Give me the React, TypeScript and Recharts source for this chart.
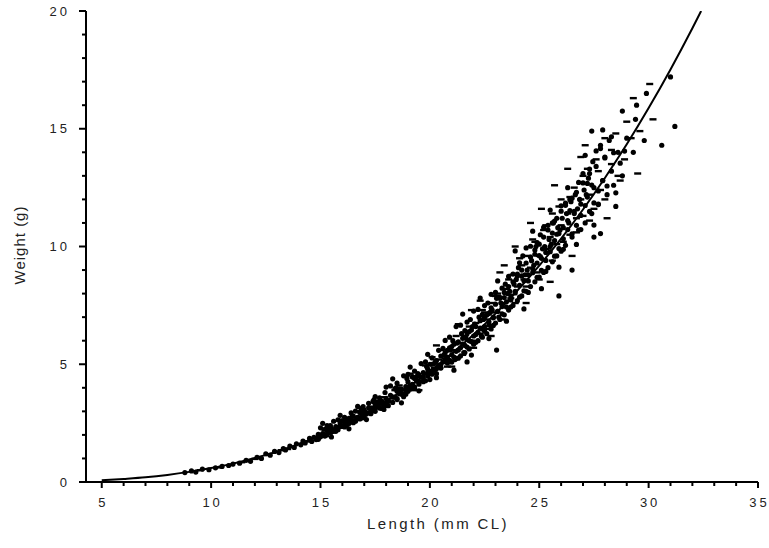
import { ScatterChart, Scatter, XAxis, YAxis } from 'recharts';

// length (mm CL) / weight (g) pairs
const dotPoints: [number, number][] = [
  [8.8, 0.4], [9.1, 0.47], [9.3, 0.42], [9.6, 0.55], [9.9, 0.52], [10.2, 0.6], [10.5, 0.66], [10.8, 0.7],
  [11.0, 0.76], [11.3, 0.8], [11.6, 0.92], [11.8, 0.88], [12.1, 1.05], [12.3, 1.0],
  [12.5, 1.2], [12.7, 1.14], [12.9, 1.3], [13.1, 1.25], [13.3, 1.42], [13.4, 1.36], [13.6, 1.52], [13.8, 1.47],
  [13.9, 1.62], [14.1, 1.58], [14.2, 1.74], [14.3, 1.66], [14.5, 1.85], [14.6, 1.72], [14.7, 1.9], [14.8, 1.8],
  [14.9, 2.02], [15.0, 1.92],
  [15.1, 2.05], [15.2, 1.95], [15.3, 2.2], [15.4, 2.1], [15.5, 2.28], [15.6, 2.15], [15.7, 2.35], [15.8, 2.22],
  [15.9, 2.48], [16.0, 2.36], [16.1, 2.55], [16.2, 2.42], [16.3, 2.7], [16.3, 2.5], [16.4, 2.62], [16.5, 2.8],
  [16.6, 2.58], [16.7, 2.75], [16.8, 2.95], [16.8, 2.68], [16.9, 2.85], [17.0, 3.05], [17.0, 2.78], [17.1, 2.95],
  [17.2, 3.15], [17.3, 2.9], [17.4, 3.1], [17.5, 3.3], [17.5, 3.0],
  [17.6, 3.2], [17.7, 3.4], [17.8, 3.12], [17.9, 3.35], [18.0, 3.55], [18.0, 3.25], [18.1, 3.45], [18.2, 3.68],
  [18.3, 3.38], [18.4, 3.6], [18.5, 3.85], [18.5, 3.5], [18.6, 3.75], [18.7, 3.95], [18.8, 3.62], [18.9, 4.05],
  [19.0, 3.85], [19.0, 4.25], [19.1, 3.95], [19.2, 4.15], [19.3, 4.4], [19.3, 3.98], [19.4, 4.28], [19.5, 4.55],
  [19.5, 4.15], [19.6, 4.45], [19.7, 4.65], [19.8, 4.3], [19.9, 4.8], [19.9, 4.5], [20.0, 4.7], [20.0, 4.35],
  [20.1, 5.0], [20.2, 4.75], [20.3, 5.15], [20.3, 4.6], [20.4, 4.95], [20.5, 5.35], [20.5, 4.85], [20.6, 5.1],
  [20.7, 5.5], [20.8, 5.05], [20.8, 5.3], [20.9, 5.7], [21.0, 5.4], [21.0, 5.1], [21.1, 5.85], [21.2, 5.55],
  [21.2, 5.25], [21.3, 5.95], [21.4, 5.7], [21.4, 5.35], [21.5, 6.1], [21.6, 5.8], [21.6, 5.5], [21.7, 6.3],
  [21.7, 5.1], [21.8, 6.0], [21.8, 5.65], [21.9, 6.45], [22.0, 6.2], [22.0, 5.85], [22.1, 6.6], [22.2, 6.35],
  [22.2, 6.0], [22.3, 6.85], [22.4, 6.5], [22.4, 6.15], [22.5, 7.0], [22.5, 6.6],
  [22.6, 6.3], [22.7, 7.15], [22.7, 6.8], [22.8, 7.4], [22.8, 6.5], [22.9, 7.0], [23.0, 7.55], [23.0, 6.75],
  [23.05, 5.6], [23.1, 7.25], [23.2, 7.8], [23.2, 6.9], [23.3, 7.45], [23.4, 8.05], [23.4, 7.1], [23.5, 7.65],
  [23.6, 8.3], [23.6, 7.3], [23.7, 7.9], [23.8, 8.5], [23.8, 7.5], [23.9, 8.1], [24.0, 8.75], [24.0, 7.7],
  [24.1, 8.35], [24.2, 9.0], [24.2, 7.9], [24.3, 8.55], [24.4, 9.3], [24.4, 8.1], [24.5, 8.8], [24.6, 9.55],
  [24.6, 8.3], [24.7, 9.05], [24.8, 9.85], [24.8, 8.5], [24.9, 9.3], [25.0, 10.1], [25.0, 8.7],
  [25.1, 9.5], [25.2, 10.4], [25.2, 8.9], [25.3, 9.75], [25.4, 10.7], [25.4, 9.1], [25.5, 10.0], [25.6, 11.0],
  [25.6, 9.35], [25.7, 10.25], [25.8, 11.2], [25.8, 9.6], [25.9, 10.55], [25.9, 7.9], [26.0, 11.5], [26.0, 9.8],
  [26.1, 10.8], [26.2, 11.75], [26.2, 10.05], [26.3, 11.1], [26.4, 12.0], [26.5, 10.4], [26.5, 9.0], [26.6, 11.4],
  [26.7, 12.3], [26.8, 10.7], [26.9, 11.8], [27.0, 12.7], [27.1, 11.0], [27.2, 12.1], [27.3, 13.1], [27.4, 11.4],
  [27.5, 10.4], [27.5, 12.5],
  [27.6, 13.4], [27.7, 11.8], [27.8, 10.55], [27.8, 14.3], [27.9, 12.8], [28.0, 13.8], [28.1, 12.2], [28.2, 14.5],
  [28.3, 13.2], [28.4, 12.6], [28.5, 11.7], [28.6, 14.0], [28.8, 13.0], [29.0, 14.6], [29.3, 14.0], [29.4, 15.4],
  [29.45, 16.0], [29.8, 14.5], [29.9, 16.5], [30.6, 14.3], [31.0, 17.2], [31.2, 15.1], [27.4, 14.9],
];

// the dense middle of the cloud
const densePoints: [number, number][] = [
  [15.0, 2.3], [15.1, 2.02], [14.9, 1.81], [15.2, 2.24], [15.3, 2.0], [15.1, 2.49], [15.4, 2.26], [15.5, 1.91],
  [15.3, 2.4], [15.6, 2.58], [15.7, 2.23], [15.5, 2.13], [15.8, 2.64], [15.9, 2.36], [15.7, 2.15], [16.0, 2.59],
  [16.1, 2.34], [15.9, 2.83], [16.2, 2.61], [16.3, 2.26], [16.1, 2.75], [16.4, 2.94], [16.5, 2.59], [16.3, 2.49],
  [16.6, 3.01], [16.7, 2.73], [16.5, 2.52], [16.8, 2.97], [16.9, 2.72], [16.7, 3.21], [17.0, 3.0], [17.1, 2.65],
  [16.9, 3.14], [17.2, 3.34], [17.3, 2.99], [17.1, 2.89], [17.4, 3.42], [17.5, 3.14], [17.3, 2.93], [17.6, 3.39],
  [17.7, 3.14], [17.5, 3.63], [17.8, 3.43], [17.9, 3.08], [17.7, 3.57],
  [18.0, 4.03], [18.1, 3.43], [17.9, 3.25], [18.2, 4.08], [18.3, 3.6], [18.1, 3.24], [18.4, 3.96], [18.5, 3.54],
  [18.3, 4.38], [18.6, 3.96], [18.7, 3.36], [18.5, 4.2], [18.8, 4.51], [18.9, 3.91], [18.7, 3.73], [19.0, 4.57],
  [19.1, 4.09], [18.9, 3.73], [19.2, 4.46], [19.3, 4.04], [19.1, 4.88], [19.4, 4.47], [19.5, 3.87], [19.3, 4.71],
  [19.6, 5.03], [19.7, 4.43], [19.5, 4.25], [19.8, 5.1], [19.9, 4.62], [19.7, 4.26], [20.0, 5.0], [20.1, 4.58],
  [19.9, 5.42], [20.2, 5.03], [20.3, 4.43], [20.1, 5.27], [20.4, 5.59], [20.5, 4.99], [20.3, 4.81], [20.6, 5.68],
  [20.7, 5.2], [20.5, 4.84], [20.8, 5.59], [20.9, 5.17], [20.7, 6.01],
  [21.0, 5.75], [21.1, 4.75], [20.9, 6.15], [21.2, 6.6], [21.3, 5.6], [21.1, 5.3], [21.4, 6.66], [21.5, 5.86],
  [21.3, 5.26], [21.6, 6.43], [21.7, 5.73], [21.5, 7.13], [21.8, 6.39], [21.9, 5.39], [21.7, 6.79], [22.0, 7.26],
  [22.1, 6.26], [21.9, 5.96], [22.2, 7.33], [22.3, 6.53], [22.1, 5.93], [22.4, 7.11], [22.5, 6.41], [22.3, 7.81],
  [22.6, 7.09], [22.7, 6.09], [22.5, 7.49], [22.8, 7.97], [22.9, 6.97], [22.7, 6.67], [23.0, 8.05], [23.1, 7.25],
  [22.9, 6.65], [23.2, 7.84], [23.3, 7.14], [23.1, 8.54], [23.4, 7.83], [23.5, 6.83], [23.3, 8.23], [23.6, 8.73],
  [23.7, 7.73], [23.5, 7.43], [23.8, 8.83], [23.9, 8.03], [23.7, 7.43],
  [24.0, 8.83], [24.1, 7.85], [23.9, 9.81], [24.2, 8.75], [24.3, 7.35], [24.1, 9.31], [24.4, 9.94], [24.5, 8.54],
  [24.3, 8.12], [24.6, 10.01], [24.7, 8.89], [24.5, 8.05], [24.8, 9.67], [24.9, 8.69], [24.7, 10.65], [25.0, 9.61],
  [25.1, 8.21], [24.9, 10.17], [25.2, 10.81], [25.3, 9.41], [25.1, 8.99], [25.4, 10.9], [25.5, 9.78], [25.3, 8.94],
  [25.6, 10.57], [25.7, 9.59], [25.5, 11.55], [25.8, 10.52], [25.9, 9.12], [25.7, 11.08], [26.0, 11.73], [26.1, 10.33],
  [25.9, 9.91], [26.2, 11.84], [26.3, 10.72], [26.1, 9.88], [26.4, 11.52], [26.5, 10.54], [26.3, 12.5], [26.6, 11.49],
  [26.7, 10.09], [26.5, 12.05], [26.8, 12.72], [26.9, 11.32], [26.7, 10.9],
  [27.0, 13.1], [27.1, 11.74], [26.9, 10.72], [27.2, 12.68], [27.3, 11.49], [27.1, 13.87], [27.4, 12.61], [27.5, 10.91],
  [27.3, 13.29], [27.6, 14.06], [27.7, 12.36], [27.5, 11.85], [27.8, 14.16], [27.9, 12.8], [27.7, 11.78], [28.0, 13.76],
  [28.1, 12.57], [27.9, 14.95], [28.4, 13.98], [28.5, 12.28], [28.3, 14.66], [28.8, 15.75], [28.9, 14.05], [28.7, 13.54],
];

// extra fill where the cloud is solid black
const corePoints: [number, number][] = [
  [21.05, 6.0], [21.25, 5.9], [21.45, 6.3], [21.65, 6.1], [21.85, 6.9], [22.05, 6.7], [22.25, 7.0], [22.45, 6.9],
  [22.65, 7.6], [22.85, 7.3], [23.05, 7.8], [23.25, 7.6], [23.45, 8.4], [23.65, 8.1], [23.85, 8.4], [24.05, 9.1],
  [24.25, 9.6], [24.45, 9.0], [24.65, 9.4], [24.85, 10.0], [25.05, 10.5], [25.25, 10.0], [25.45, 10.3], [25.65, 11.0],
  [25.85, 10.8], [26.05, 11.2], [26.25, 11.4], [26.45, 11.9], [26.65, 12.2], [26.85, 12.0], [27.05, 12.4], [27.25, 12.9],
  [27.45, 13.6], [21.15, 5.2], [21.55, 5.5], [21.95, 6.6], [22.35, 6.2], [22.75, 7.2], [23.15, 7.0], [23.55, 8.0],
  [23.95, 8.6], [24.35, 8.8], [24.75, 9.2], [25.15, 9.9], [25.55, 10.1], [25.95, 10.7], [26.35, 11.0], [26.75, 11.6],
  [27.15, 12.2], [19.85, 4.9], [20.25, 5.1], [20.65, 5.4], [20.95, 5.6], [19.45, 4.6], [18.95, 4.4], [18.45, 4.0],
  [17.95, 3.8], [17.45, 3.5], [16.95, 3.2], [16.45, 2.8], [15.95, 2.6], [15.45, 2.4],
];

const dashPoints: [number, number][] = [
  [9.5, 0.5], [10.9, 0.72], [12.6, 1.15], [13.5, 1.4], [14.2, 1.62], [14.9, 1.88], [15.4, 2.05], [15.8, 2.3],
  [16.2, 2.6], [16.6, 2.75], [17.0, 2.92], [17.3, 3.2], [17.7, 3.28], [18.0, 3.4], [18.3, 3.65], [18.7, 3.8],
  [19.0, 4.0], [19.2, 3.9], [19.6, 4.3], [19.9, 4.6], [20.2, 4.85], [20.4, 5.2], [20.7, 5.25], [20.9, 5.05],
  [21.1, 5.6], [21.4, 5.9], [21.6, 6.2], [21.9, 6.0], [22.1, 6.75], [22.3, 6.3], [22.5, 7.2], [22.6, 6.9],
  [22.8, 7.6], [23.0, 7.2], [23.1, 8.0], [23.3, 7.6], [23.5, 8.2], [23.7, 7.8], [23.8, 8.8], [24.0, 8.3],
  [24.2, 9.2], [24.3, 8.6], [24.5, 9.6], [24.6, 9.1], [24.8, 10.2], [24.9, 8.9], [25.0, 9.6], [25.2, 10.7],
  [25.3, 9.9], [25.5, 10.4], [25.6, 11.4], [25.8, 10.1], [26.0, 10.9], [26.0, 12.0], [26.3, 11.4], [26.4, 10.5],
  [26.6, 12.5], [26.7, 11.2], [26.9, 12.0], [27.0, 11.3], [27.2, 13.3], [27.3, 12.2], [27.5, 11.6], [27.6, 13.7],
  [27.8, 12.4], [28.0, 14.6], [28.1, 11.2], [28.3, 13.5], [28.5, 14.8], [28.7, 12.8], [29.0, 15.3], [29.3, 16.3],
  [29.5, 13.1], [29.6, 14.9], [30.05, 16.9], [27.1, 14.3], [26.3, 13.3], [25.7, 12.6], [24.6, 11.0], [23.9, 10.0],
  [23.2, 8.9], [22.3, 7.7], [21.3, 6.7], [20.3, 5.8], [19.1, 4.6], [24.4, 7.6], [25.5, 8.5], [26.5, 9.6],
  [22.8, 6.2], [21.0, 4.9], [19.5, 3.9],
  [17.9, 3.6], [18.6, 4.1], [19.3, 4.5], [19.8, 4.95], [20.5, 5.6], [20.8, 4.9], [21.2, 6.2], [21.5, 5.4],
  [21.8, 6.6], [22.0, 5.7], [22.4, 7.3], [22.7, 6.5], [23.0, 7.9], [23.3, 6.9], [23.6, 8.6], [23.9, 7.6],
  [24.1, 9.5], [24.4, 8.3], [24.7, 10.3], [25.0, 8.6], [25.3, 10.9], [25.6, 9.4], [25.9, 11.7], [26.1, 10.2],
  [26.4, 12.1], [26.7, 10.6], [27.0, 13.0], [27.3, 11.1], [27.7, 13.2], [28.0, 12.0], [28.3, 14.1], [28.6, 13.0],
  [28.9, 13.7], [29.2, 14.6], [30.2, 15.4], [26.9, 13.8], [25.1, 11.6], [23.4, 9.2], [21.9, 7.3], [20.1, 5.3],
  [18.4, 3.9], [16.9, 3.1], [16.0, 2.55], [15.2, 2.2], [14.4, 1.72], [13.2, 1.35], [12.0, 0.98], [11.4, 0.84],
  [10.3, 0.62],
];

// fitted length-weight curve
const curveLength = [5, 6, 7, 8, 9, 10, 11, 12, 13, 14, 15, 16, 17, 18, 19, 20, 21, 22, 23, 24, 25, 26, 27, 28, 29, 30, 31, 32, 32.4];
const curveWeight = [0.07, 0.13, 0.2, 0.3, 0.43, 0.59, 0.78, 1.02, 1.29, 1.61, 1.98, 2.41, 2.89, 3.43, 4.03, 4.7, 5.45, 6.26, 7.15, 8.13, 9.19, 10.33, 11.57, 12.91, 14.34, 15.88, 17.52, 19.27, 20.0];

const xTicks = Array.from({ length: 31 }, (_, i) => 5 + i);
const yTicks = Array.from({ length: 21 }, (_, i) => i);

const toRows = (pts: [number, number][]) => pts.map(([x, y]) => ({ x, y }));
const curveData = curveLength.map((x, i) => ({ x, y: curveWeight[i] }));

const FONT = '"Liberation Sans", Arial, sans-serif';

function XTick({ x, y, payload }: any) {
  const major = payload.value % 5 === 0;
  return (
    <g>
      <line x1={x} x2={x} y1={y} y2={y + (major ? 6 : 4)} stroke="#000" strokeWidth={2} />
      {major && (
        <text x={x + 1.5} y={y + 25} textAnchor="middle" fontSize={13} letterSpacing={3} fill="#222" fontFamily={FONT}>
          {payload.value}
        </text>
      )}
    </g>
  );
}

function YTick({ x, y, payload }: any) {
  const major = payload.value % 5 === 0;
  return (
    <g>
      <line x1={x - (major ? 7 : 4)} x2={x} y1={y} y2={y} stroke="#000" strokeWidth={2} />
      {major && (
        <text x={70} y={y + 4.5} textAnchor="end" fontSize={13} letterSpacing={3} fill="#222" fontFamily={FONT}>
          {payload.value}
        </text>
      )}
    </g>
  );
}

const Dot = (p: any) => <circle cx={p.cx} cy={p.cy} r={2.6} fill="#000" />;
const Dash = (p: any) => <rect x={p.cx - 3.5} y={p.cy - 1.2} width={7} height={2.4} fill="#000" />;

export default function App() {
  return (
    <div style={{ position: 'absolute', left: 0, top: 0, background: '#fff' }}>
      <ScatterChart width={769} height={548} margin={{ top: 11, right: 11, left: 0, bottom: 0 }}>
        <XAxis
          type="number"
          dataKey="x"
          domain={[4.28, 35]}
          ticks={xTicks}
          interval={0}
          tick={XTick}
          tickLine={false}
          tickSize={0}
          tickMargin={0}
          height={66}
          axisLine={{ stroke: '#000', strokeWidth: 2 }}
          allowDataOverflow
        />
        <YAxis
          type="number"
          dataKey="y"
          domain={[0, 20]}
          ticks={yTicks}
          interval={0}
          tick={YTick}
          tickLine={false}
          tickSize={0}
          tickMargin={0}
          width={86}
          axisLine={{ stroke: '#000', strokeWidth: 2 }}
          allowDataOverflow
        />
        <Scatter data={toRows(dashPoints)} fill="#000" isAnimationActive={false} shape={Dash} />
        <Scatter data={toRows(densePoints)} fill="#000" isAnimationActive={false} shape={Dot} />
        <Scatter data={toRows(corePoints)} fill="#000" isAnimationActive={false} shape={Dot} />
        <Scatter data={toRows(dotPoints)} fill="#000" isAnimationActive={false} shape={Dot} />
        <Scatter
          data={curveData}
          isAnimationActive={false}
          line={{ stroke: '#000', strokeWidth: 2 }}
          lineJointType="monotoneX"
          shape={() => <g />}
        />
        <text x={438} y={529} textAnchor="middle" fontSize={15} letterSpacing={2.4} fill="#222" fontFamily={FONT}>
          Length (mm CL)
        </text>
        <text
          x={25}
          y={245}
          transform="rotate(-90 25 245)"
          textAnchor="middle"
          fontSize={15}
          letterSpacing={1}
          fill="#222"
          fontFamily={FONT}
        >
          Weight (g)
        </text>
      </ScatterChart>
    </div>
  );
}
